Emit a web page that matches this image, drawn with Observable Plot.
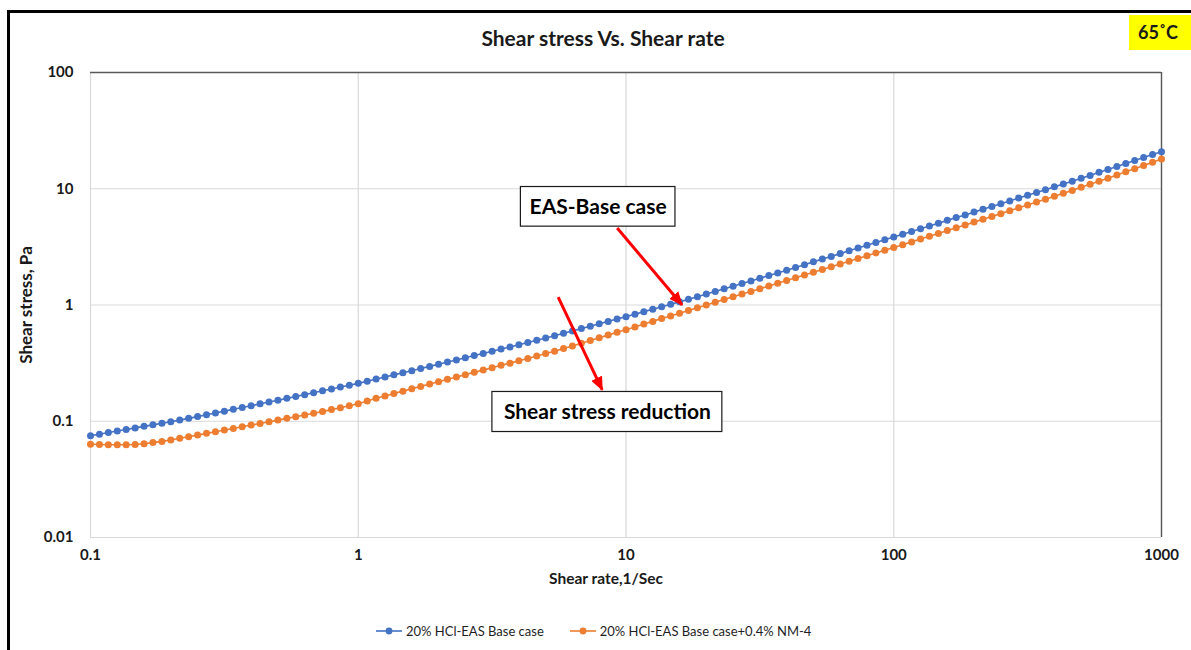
<!DOCTYPE html>
<html>
<head>
<meta charset="utf-8">
<script src="https://cdn.jsdelivr.net/npm/d3@7"></script>
<script src="https://cdn.jsdelivr.net/npm/@observablehq/plot@0.6"></script>
<style>
  html, body { margin: 0; padding: 0; background: #fff; overflow: hidden; }
  #page { position: relative; width: 1191px; height: 650px; overflow: hidden; font-family: Lato, "Open Sans", sans-serif; color: #1a1a1a; }
  #frame { position: absolute; left: 7px; top: 10px; width: 1200px; height: 700px; border: 3.5px solid #000; box-sizing: border-box; }
  #chart { position: absolute; left: 0; top: 0; }
  #title { position: absolute; left: 0; width: 1206px; top: 25px; text-align: center; font-weight: 700; font-size: 21px; }
  #temp { position: absolute; left: 1129px; top: 15px; width: 70px; height: 35px; background: #ffff00; font-weight: 700; font-size: 18px; line-height: 35px; padding-left: 9px; box-sizing: border-box; }
  #xlabel { position: absolute; left: 0; width: 1212px; top: 569px; text-align: center; font-weight: 700; font-size: 15.5px; }
  #ylabel { position: absolute; left: 25px; top: 305px; transform: translate(-50%, -50%) rotate(-90deg); white-space: nowrap; font-weight: 700; font-size: 17px; }
  #legend { position: absolute; left: 376px; top: 623px; display: flex; align-items: center; font-size: 13px; color: #1f1f1f; }
  #legend .item { display: flex; align-items: center; margin-right: 26px; }
  #legend svg { margin-right: 4px; }
  svg [aria-label$="tick label"] text { font-weight: 700; font-size: 15px; }
</style>
</head>
<body>
<div id="page">
  <div id="frame"></div>
  <div id="chart"></div>
  <div id="title">Shear stress Vs. Shear rate</div>
  <div id="temp">65˚C</div>
  <div id="xlabel">Shear rate,1/Sec</div>
  <div id="ylabel">Shear stress, Pa</div>
  <div id="legend"></div>
</div>
<script>
// ---- Data ----
const shearRate = [
  0.1,0.108,0.1166,0.1259,0.1359,0.1468,0.1585,0.1711,0.1848,0.1995,
  0.2154,0.2326,0.2512,0.2712,0.2929,0.3162,0.3415,0.3687,0.3981,0.4299,
  0.4642,0.5012,0.5412,0.5843,0.631,0.6813,0.7356,0.7943,0.8577,0.9261,
  1,1.08,1.166,1.259,1.359,1.468,1.585,1.711,1.848,1.995,
  2.154,2.326,2.512,2.712,2.929,3.162,3.415,3.687,3.981,4.299,
  4.642,5.012,5.412,5.843,6.31,6.813,7.356,7.943,8.577,9.261,
  10,10.8,11.66,12.59,13.59,14.68,15.85,17.11,18.48,19.95,
  21.54,23.26,25.12,27.12,29.29,31.62,34.15,36.87,39.81,42.99,
  46.42,50.12,54.12,58.43,63.1,68.13,73.56,79.43,85.77,92.61,
  100,108,116.6,125.9,135.9,146.8,158.5,171.1,184.8,199.5,
  215.4,232.6,251.2,271.2,292.9,316.2,341.5,368.7,398.1,429.9,
  464.2,501.2,541.2,584.3,631,681.3,735.6,794.3,857.7,926.1,
  1000
];
const stressBase = [
  0.0752,0.0774,0.0800,0.0824,0.0849,0.0877,0.0904,0.0931,0.0962,0.0991,
  0.1023,0.1059,0.1096,0.1138,0.1178,0.1222,0.1268,0.1312,0.1361,0.1413,
  0.1462,0.1517,0.1574,0.1633,0.1694,0.1758,0.1828,0.1897,0.1968,0.2042,
  0.2118,0.2208,0.2307,0.2405,0.2506,0.2612,0.2723,0.2838,0.2965,0.3090,
  0.3228,0.3365,0.3516,0.3673,0.3828,0.4000,0.4178,0.4355,0.4550,0.4753,
  0.4977,0.5200,0.5445,0.5715,0.5984,0.6281,0.6577,0.6902,0.7228,0.7586,
  0.7943,0.8337,0.8770,0.9205,0.9661,1.014,1.064,1.119,1.180,1.242,
  1.309,1.377,1.452,1.531,1.611,1.698,1.791,1.888,1.991,2.104,
  2.223,2.350,2.483,2.618,2.767,2.924,3.090,3.266,3.451,3.639,
  3.846,4.064,4.285,4.529,4.786,5.058,5.346,5.649,5.957,6.295,
  6.653,7.031,7.430,7.852,8.318,8.791,9.290,9.817,10.38,10.99,
  11.61,12.30,13.03,13.84,14.66,15.56,16.48,17.50,18.53,19.68,
  20.84
];
const stressNM4 = [
  0.0635,0.0631,0.0628,0.0627,0.0627,0.0631,0.0641,0.0655,0.0671,0.0690,
  0.0713,0.0736,0.0760,0.0787,0.0813,0.0840,0.0867,0.0897,0.0927,0.0957,
  0.0991,0.1023,0.1059,0.1094,0.1132,0.1172,0.1213,0.1259,0.1306,0.1358,
  0.1416,0.1496,0.1574,0.1652,0.1734,0.1816,0.1905,0.1995,0.2089,0.2188,
  0.2296,0.2399,0.2518,0.2636,0.2754,0.2884,0.3027,0.3162,0.3311,0.3467,
  0.3648,0.3819,0.4009,0.4227,0.4436,0.4688,0.4943,0.5224,0.5508,0.5821,
  0.6138,0.6471,0.6855,0.7228,0.7638,0.8054,0.8511,0.8974,0.9484,1.000,
  1.057,1.117,1.180,1.245,1.309,1.380,1.459,1.538,1.622,1.714,
  1.811,1.914,2.023,2.133,2.254,2.382,2.512,2.655,2.805,2.958,
  3.126,3.304,3.491,3.690,3.899,4.130,4.365,4.624,4.875,5.164,
  5.458,5.781,6.109,6.471,6.855,7.261,7.691,8.128,8.610,9.141,
  9.683,10.28,10.91,11.61,12.33,13.15,14.00,14.89,15.85,16.90,
  17.99
];
const seriesNames = ["20% HCl-EAS Base case", "20% HCl-EAS Base case+0.4% NM-4"];
const seriesColors = ["#4472C4", "#ED7D31"];

const xTicks = [0.1, 1, 10, 100, 1000];
const xTickLabels = ["0.1", "1", "10", "100", "1000"];
const yTicks = [0.01, 0.1, 1, 10, 100];
const yTickLabels = ["0.01", "0.1", "1", "10", "100"];

// annotations (data coordinates)
const noteText = ["EAS-Base case", "Shear stress reduction"];
const noteX = [7.87, 8.52];
const noteY = [6.99, 0.1201];
const noteBoxX1 = [4.05, 3.17];
const noteBoxX2 = [15.3, 22.9];
const noteBoxY1 = [4.72, 0.0808];
const noteBoxY2 = [10.35, 0.1786];
const arrowX1 = [9.27, 5.58];
const arrowY1 = [4.59, 1.17];
const arrowX2 = [16.2, 8.15];
const arrowY2 = [1.0, 0.186];

// ---- Build tables ----
const rows = [];
[stressBase, stressNM4].forEach((vals, s) => {
  vals.forEach((v, i) => rows.push({ x: shearRate[i], y: v, series: seriesNames[s] }));
});
const notes = noteText.map((t, i) => ({
  text: t, x: noteX[i], y: noteY[i],
  bx1: noteBoxX1[i], bx2: noteBoxX2[i], by1: noteBoxY1[i], by2: noteBoxY2[i]
}));
const arrows = arrowX1.map((_, i) => ({ x1: arrowX1[i], y1: arrowY1[i], x2: arrowX2[i], y2: arrowY2[i] }));
const xLab = new Map(xTicks.map((t, i) => [t, xTickLabels[i]]));
const yLab = new Map(yTicks.map((t, i) => [t, yTickLabels[i]]));

const chart = Plot.plot({
  width: 1191,
  height: 650,
  marginLeft: 90,
  marginRight: 30,
  marginTop: 72,
  marginBottom: 113,
  style: { background: "transparent", fontFamily: "Lato, 'Open Sans', sans-serif", color: "#1a1a1a", overflow: "visible" },
  x: { type: "log", domain: [0.1, 1000] },
  y: { type: "log", domain: [0.01, 100] },
  color: { domain: seriesNames, range: seriesColors },
  marks: [
    Plot.gridX(xTicks, { stroke: "#d9d9d9", strokeOpacity: 1, strokeWidth: 1.2 }),
    Plot.gridY(yTicks, { stroke: "#d9d9d9", strokeOpacity: 1, strokeWidth: 1.2 }),
    Plot.ruleY([100], { stroke: "#595959", strokeWidth: 1.4 }),
    Plot.ruleX([1000], { stroke: "#595959", strokeWidth: 1.4 }),
    Plot.axisX(xTicks, { tickSize: 0, tickPadding: 12, tickFormat: d => xLab.get(d), fontSize: 15, fontWeight: "bold", label: null }),
    Plot.axisY(yTicks, { tickSize: 0, tickPadding: 17, tickFormat: d => yLab.get(d), fontSize: 15, fontWeight: "bold", label: null }),
    Plot.line(rows, { x: "x", y: "y", z: "series", stroke: "series", strokeWidth: 1.6 }),
    Plot.dot(rows, { x: "x", y: "y", fill: "series", r: 3.5 }),
    Plot.rect(notes, { x1: "bx1", x2: "bx2", y1: "by1", y2: "by2", fill: "white", stroke: "#1a1a1a", strokeWidth: 1.2 }),
    Plot.text(notes, { x: "x", y: "y", text: "text", fontSize: 21, fontWeight: "bold", fill: "#000" }),
    Plot.link(arrows, { x1: "x1", y1: "y1", x2: "x2", y2: "y2", stroke: "#ff0000", strokeWidth: 3 })
  ]
});
document.getElementById("chart").appendChild(chart);

// filled arrowheads on the links
const svgNS = "http://www.w3.org/2000/svg";
const defs = document.createElementNS(svgNS, "defs");
const marker = document.createElementNS(svgNS, "marker");
marker.setAttribute("id", "redhead");
marker.setAttribute("markerUnits", "userSpaceOnUse");
marker.setAttribute("markerWidth", "14");
marker.setAttribute("markerHeight", "12");
marker.setAttribute("refX", "13");
marker.setAttribute("refY", "6");
marker.setAttribute("orient", "auto");
const mpath = document.createElementNS(svgNS, "path");
mpath.setAttribute("d", "M0,0 L14,6 L0,12 Z");
mpath.setAttribute("fill", "#ff0000");
marker.appendChild(mpath);
defs.appendChild(marker);
chart.insertBefore(defs, chart.firstChild);
chart.querySelectorAll('g[aria-label="link"] path').forEach(p => p.setAttribute("marker-end", "url(#redhead)"));

// legend
const legend = document.getElementById("legend");
seriesNames.forEach((name, i) => {
  const item = document.createElement("div");
  item.className = "item";
  item.innerHTML = `<svg width="26" height="10"><line x1="0" y1="5" x2="26" y2="5" stroke="${seriesColors[i]}" stroke-width="1.6"/><circle cx="13" cy="5" r="3.4" fill="${seriesColors[i]}"/></svg><span>${name}</span>`;
  legend.appendChild(item);
});
</script>
</body>
</html>
